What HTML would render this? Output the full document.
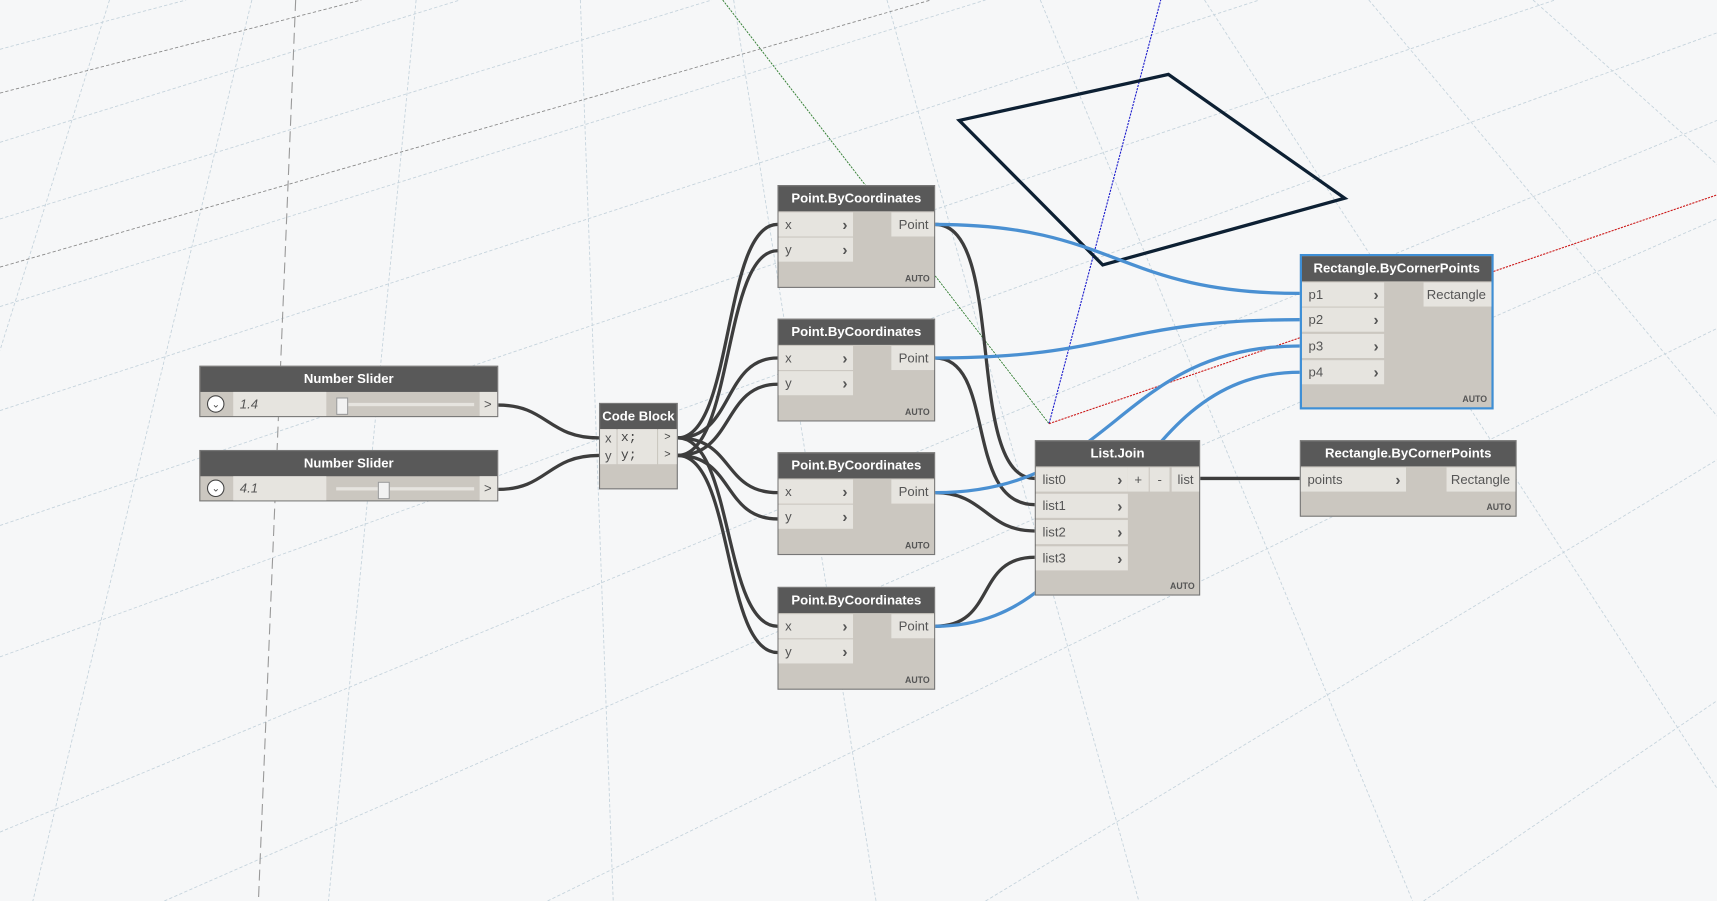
<!DOCTYPE html>
<html><head><meta charset="utf-8"><style>
html,body{margin:0;padding:0;width:1717px;height:901px;overflow:hidden;background:#f6f7f8;}
#w{position:absolute;left:0;top:0;width:1568px;height:823px;transform:scale(1.09503,1.0948);transform-origin:0 0;font-family:"Liberation Sans",sans-serif;font-size:12px;color:#444;}
svg{position:absolute;left:0;top:0;}
.n{position:absolute;background:#cbc7c0;border:1px solid #777;box-sizing:border-box;}
.hd{position:absolute;left:0;top:0;right:0;height:23px;background:#595959;color:#fff;font-weight:bold;font-size:12px;text-align:center;line-height:23px;}
.p{position:absolute;background:#e6e4df;height:22px;line-height:22px;padding-left:6px;box-sizing:border-box;color:#555;}
.p b{position:absolute;right:5px;top:0;font-size:14px;color:#555;}
.o{position:absolute;background:#e6e4df;height:22px;line-height:22px;text-align:right;padding-right:5px;box-sizing:border-box;color:#555;}
.a{position:absolute;right:4px;bottom:3px;font-size:8px;font-weight:bold;color:#555;}
</style></head><body><div id="w">
<svg width="1568" height="823" viewBox="0 0 1568 823">
<g stroke="#c5d3dc" stroke-width="0.8" stroke-dasharray="3,2" fill="none">
<line x1="0" y1="45" x2="170" y2="0"/><line x1="0" y1="130" x2="420" y2="0"/>
<line x1="0" y1="200" x2="650" y2="0"/><line x1="0" y1="280" x2="900" y2="0"/>
<line x1="0" y1="375" x2="1150" y2="0"/><line x1="0" y1="480" x2="1420" y2="0"/>
<line x1="0" y1="600" x2="1568" y2="30"/><line x1="0" y1="760" x2="1568" y2="110"/>
<line x1="150" y1="823" x2="1568" y2="200"/><line x1="500" y1="823" x2="1568" y2="300"/>
<line x1="900" y1="823" x2="1568" y2="420"/><line x1="1300" y1="823" x2="1568" y2="640"/>
<line x1="100" y1="0" x2="0" y2="320"/><line x1="230" y1="0" x2="30" y2="823"/>
<line x1="380" y1="0" x2="300" y2="823"/><line x1="530" y1="0" x2="560" y2="823"/>
<line x1="670" y1="0" x2="800" y2="823"/><line x1="810" y1="0" x2="1040" y2="823"/>
<line x1="950" y1="0" x2="1290" y2="823"/><line x1="1100" y1="0" x2="1568" y2="720"/>
<line x1="1250" y1="0" x2="1568" y2="380"/><line x1="1400" y1="0" x2="1568" y2="150"/>
</g>
<line x1="0" y1="85" x2="330" y2="0" stroke="#888" stroke-width="0.8" stroke-dasharray="3,2"/>
<line x1="0" y1="244" x2="850" y2="0" stroke="#888" stroke-width="0.8" stroke-dasharray="3,2"/>
<line x1="270" y1="0" x2="236" y2="823" stroke="#999" stroke-width="1" stroke-dasharray="10,5"/>
<line x1="660" y1="0" x2="958" y2="387" stroke="#2a7a2a" stroke-width="0.8" stroke-dasharray="2,1"/>
<line x1="958" y1="387" x2="1060" y2="0" stroke="#1a1acc" stroke-width="1" stroke-dasharray="2,1"/>
<line x1="958" y1="387" x2="1568" y2="178" stroke="#cc1a1a" stroke-width="1" stroke-dasharray="2,1"/>
<polygon points="876,110 1067,68 1228,181 1007,242" fill="none" stroke="#0d2033" stroke-width="3"/>
<g fill="none" stroke="#3d3d3d" stroke-width="3">
<path d="M455,370 C500,370 500,400 547,400"/><path d="M455,447 C500,447 500,416 547,416"/>
<path d="M619,400 C670,400 660,205 710,205"/><path d="M619,400 C670,400 660,327 710,327"/>
<path d="M619,400 C670,400 660,450 710,450"/><path d="M619,400 C670,400 660,572 710,572"/>
<path d="M619,416 C670,416 660,229 710,229"/><path d="M619,416 C670,416 660,351 710,351"/>
<path d="M619,416 C670,416 660,474 710,474"/><path d="M619,416 C670,416 660,596 710,596"/>
<path d="M854,205 C920,205 880,437 945,437"/><path d="M854,327 C910,327 880,461 945,461"/>
<path d="M854,450 C900,450 900,485 945,485"/><path d="M854,572 C910,572 890,509 945,509"/>
<path d="M1096,437 L1187,437"/>
</g>
<g fill="none" stroke="#4a90d2" stroke-width="3">
<path d="M854,205 C1020,205 1020,268 1187,268"/><path d="M854,327 C1020,327 1020,292 1187,292"/>
<path d="M854,450 C1020,450 1020,316 1187,316"/><path d="M854,572 C1020,572 1020,340 1187,340"/>
</g>
</svg>

<div class="n" style="left:182px;top:334px;width:273px;height:47px;"><div class="hd">Number Slider</div>
<div style="position:absolute;left:0;top:23px;width:30px;height:22px;"><div style="position:absolute;left:6px;top:3px;width:14px;height:14px;border:1.5px solid #444;border-radius:50%;background:#fff;font-size:9px;line-height:14px;text-align:center;">⌄</div></div>
<div class="p" style="left:30px;top:23px;width:85px;font-style:italic;">1.4</div>
<div style="position:absolute;left:124px;top:33px;width:126px;height:3px;background:#e6e4df;"></div>
<div style="position:absolute;left:124px;top:28px;width:9px;height:14px;background:#f2f2f2;border:1px solid #999;"></div>
<div class="o" style="left:255px;top:23px;width:16px;">&gt;</div></div>

<div class="n" style="left:182px;top:411px;width:273px;height:47px;"><div class="hd">Number Slider</div>
<div style="position:absolute;left:0;top:23px;width:30px;height:22px;"><div style="position:absolute;left:6px;top:3px;width:14px;height:14px;border:1.5px solid #444;border-radius:50%;background:#fff;font-size:9px;line-height:14px;text-align:center;">⌄</div></div>
<div class="p" style="left:30px;top:23px;width:85px;font-style:italic;">4.1</div>
<div style="position:absolute;left:124px;top:33px;width:126px;height:3px;background:#e6e4df;"></div>
<div style="position:absolute;left:162px;top:28px;width:9px;height:14px;background:#f2f2f2;border:1px solid #999;"></div>
<div class="o" style="left:255px;top:23px;width:16px;">&gt;</div></div>

<div class="n" style="left:547px;top:368px;width:72px;height:79px;"><div class="hd" style="font-size:12px;">Code Block</div>
<div style="position:absolute;left:0;top:23px;width:15px;height:32px;background:#e6e4df;line-height:16px;text-align:center;color:#555;">x<br>y</div>
<div style="position:absolute;left:16px;top:23px;width:36px;height:32px;background:#e6e4df;font-family:'Liberation Mono',monospace;padding-left:3px;box-sizing:border-box;line-height:16px;">x;<br>y;</div>
<div style="position:absolute;left:53px;top:23px;width:17px;height:32px;background:#e6e4df;line-height:16px;text-align:center;font-size:10px;">&gt;<br>&gt;</div></div>

<div class="n" style="left:710px;top:169px;width:144px;height:94px;"><div class="hd">Point.ByCoordinates</div><div class="p" style="left:0;top:24px;width:68px;">x<b>›</b></div><div class="p" style="left:0;top:47px;width:68px;">y<b>›</b></div><div class="o" style="left:103px;top:24px;width:39px;">Point</div><div class="a">AUTO</div></div>
<div class="n" style="left:710px;top:291px;width:144px;height:94px;"><div class="hd">Point.ByCoordinates</div><div class="p" style="left:0;top:24px;width:68px;">x<b>›</b></div><div class="p" style="left:0;top:47px;width:68px;">y<b>›</b></div><div class="o" style="left:103px;top:24px;width:39px;">Point</div><div class="a">AUTO</div></div>
<div class="n" style="left:710px;top:413px;width:144px;height:94px;"><div class="hd">Point.ByCoordinates</div><div class="p" style="left:0;top:24px;width:68px;">x<b>›</b></div><div class="p" style="left:0;top:47px;width:68px;">y<b>›</b></div><div class="o" style="left:103px;top:24px;width:39px;">Point</div><div class="a">AUTO</div></div>
<div class="n" style="left:710px;top:536px;width:144px;height:94px;"><div class="hd">Point.ByCoordinates</div><div class="p" style="left:0;top:24px;width:68px;">x<b>›</b></div><div class="p" style="left:0;top:47px;width:68px;">y<b>›</b></div><div class="o" style="left:103px;top:24px;width:39px;">Point</div><div class="a">AUTO</div></div>

<div class="n" style="left:945px;top:402px;width:151px;height:142px;"><div class="hd">List.Join</div>
<div class="p" style="left:0;top:24px;width:84px;">list0<b>›</b></div><div class="p" style="left:0;top:48px;width:84px;">list1<b>›</b></div><div class="p" style="left:0;top:72px;width:84px;">list2<b>›</b></div><div class="p" style="left:0;top:96px;width:84px;">list3<b>›</b></div>
<div class="o" style="left:84px;top:24px;width:19px;text-align:center;padding:0;">+</div><div class="o" style="left:104px;top:24px;width:18px;text-align:center;padding:0;">-</div><div class="o" style="left:124px;top:24px;width:25px;">list</div><div class="a">AUTO</div></div>

<div class="n" style="left:1187px;top:232px;width:177px;height:142px;border:2px solid #3e8fd6;"><div class="hd">Rectangle.ByCornerPoints</div>
<div class="p" style="left:0;top:24px;width:75px;">p1<b>›</b></div><div class="p" style="left:0;top:47px;width:75px;">p2<b>›</b></div><div class="p" style="left:0;top:71px;width:75px;">p3<b>›</b></div><div class="p" style="left:0;top:95px;width:75px;">p4<b>›</b></div>
<div class="o" style="left:111px;top:24px;width:62px;">Rectangle</div><div class="a">AUTO</div></div>

<div class="n" style="left:1187px;top:402px;width:198px;height:70px;"><div class="hd">Rectangle.ByCornerPoints</div>
<div class="p" style="left:0;top:24px;width:96px;">points<b>›</b></div><div class="o" style="left:133px;top:24px;width:63px;">Rectangle</div><div class="a">AUTO</div></div>
</div></body></html>
